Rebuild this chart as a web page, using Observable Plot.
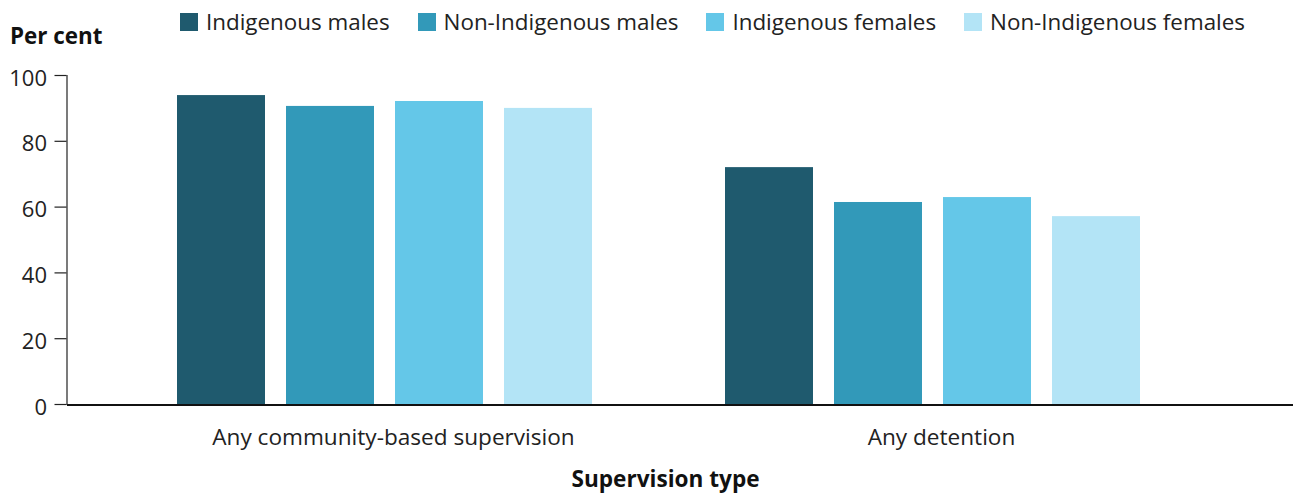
<!DOCTYPE html>
<html>
<head>
<meta charset="utf-8">
<script src="https://cdn.jsdelivr.net/npm/d3@7"></script>
<script src="https://cdn.jsdelivr.net/npm/@observablehq/plot@0.6"></script>
<style>
  html, body { margin: 0; padding: 0; background: #fff; }
  body { font-family: "Open Sans", sans-serif; color: #222; }
  #wrap { position: relative; width: 1298px; height: 494px; overflow: hidden; }
  #header { position: relative; width: 1298px; height: 60px; }
  #ytitle { position: absolute; left: 10px; top: 23px; font-size: 22.4px; font-weight: 700; line-height: 26px; color: #111; }
  #legend { position: absolute; left: 180px; top: 9px; display: flex; align-items: center; font-size: 22.4px; line-height: 26px; }
  .item { display: flex; align-items: center; margin-right: 28px; }
  .sw { width: 18px; height: 18px; margin-right: 8px; }
  #chart svg { display: block; }
</style>
</head>
<body>
<div id="wrap">
  <div id="header">
    <div id="ytitle"></div>
    <div id="legend"></div>
  </div>
  <div id="chart"></div>
</div>
<script>
// ---- data ----
const types = ["Any community-based supervision", "Any detention"];
const groups = ["Indigenous males", "Non-Indigenous males", "Indigenous females", "Non-Indigenous females"];
const colors = ["#1f5a6e", "#3299b9", "#64c7e8", "#b3e4f6"];
const communityValues = [93.9, 90.6, 92.1, 90.0];
const detentionValues = [72.0, 61.4, 62.9, 57.1];
const yTicks = [0, 20, 40, 60, 80, 100];
const yTitle = "Per cent";
const xTitle = "Supervision type";

const seriesByType = [communityValues, detentionValues];
const data = [];
types.forEach((t, i) => groups.forEach((g, j) => data.push({type: t, group: g, value: seriesByType[i][j]})));

// ---- legend ----
const legend = document.getElementById("legend");
groups.forEach((g, i) => {
  const item = document.createElement("div");
  item.className = "item";
  const sw = document.createElement("div");
  sw.className = "sw";
  sw.style.background = colors[i];
  const label = document.createElement("span");
  label.textContent = g;
  item.appendChild(sw);
  item.appendChild(label);
  legend.appendChild(item);
});
document.getElementById("ytitle").textContent = yTitle;

// ---- chart ----
const chart = Plot.plot({
  width: 1298,
  height: 434,
  marginLeft: 67,
  marginRight: 5,
  marginTop: 15,
  marginBottom: 90,
  style: {fontFamily: "Open Sans, sans-serif", fontSize: "22px", color: "#222", background: "transparent"},
  fx: {domain: types, paddingInner: 0, paddingOuter: 0.1186, align: 0.342},
  x: {domain: groups, paddingInner: 0.19, paddingOuter: 0.586, axis: null},
  y: {domain: [0, 100], ticks: yTicks},
  color: {domain: groups, range: colors},
  marks: [
    Plot.barY(data, {fx: "type", x: "group", y: "value", fill: "group"}),
    Plot.frame({anchor: "left", facet: "super", dx: -44.5, stroke: "#222", strokeWidth: 1.2}),
    Plot.ruleY([0], {insetLeft: -44.5, insetRight: -85.5, stroke: "#111", strokeWidth: 2, shapeRendering: "crispEdges"}),
    Plot.axisY({ticks: yTicks, tickSize: 12, tickFormat: () => "", dx: -44.5, label: null, stroke: "#222", strokeWidth: 1.2}),
    Plot.axisY({ticks: yTicks, tickSize: 0, tickPadding: 20, dx: -44.5, dy: 3, label: null}),
    Plot.axisFx({anchor: "bottom", tickSize: 0, tickPadding: 24, dx: 8, fontSize: "22.6px", label: null}),
    Plot.text([xTitle], {facet: "super", frameAnchor: "bottom", lineAnchor: "bottom", dy: 82, dx: 6, fontSize: "22.6px", fontWeight: "bold", fill: "#111"})
  ]
});
document.getElementById("chart").appendChild(chart);
</script>
</body>
</html>
